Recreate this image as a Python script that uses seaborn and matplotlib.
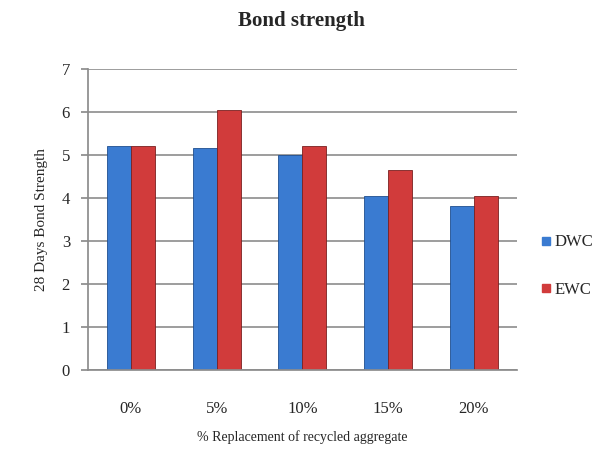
import matplotlib
matplotlib.use("Agg")
import matplotlib.pyplot as plt
import seaborn as sns
import pandas as pd

categories = ["0%", "5%", "10%", "15%", "20%"]
dwc = [5.2, 5.15, 5.0, 4.05, 3.8]
ewc = [5.2, 6.05, 5.2, 4.65, 4.05]
series = ["DWC", "EWC"]

df = pd.DataFrame({
    "cat": categories * 2,
    "val": dwc + ewc,
    "series": ["DWC"] * len(categories) + ["EWC"] * len(categories),
})

sns.set_theme(style="white")
plt.rcParams["font.family"] = ["Liberation Serif", "DejaVu Serif"]

fig = plt.figure(figsize=(6.03, 4.59), dpi=100)
ax = fig.add_axes([0.146, 0.194, 0.711, 0.656])

palette = {"DWC": "#3a7bd1", "EWC": "#d13b3b"}
sns.barplot(data=df, x="cat", y="val", hue="series", palette=palette,
            width=0.56, dodge=True, ax=ax, saturation=1, legend=False)
for p in ax.patches:
    p.set_edgecolor("#7a2020" if p.get_facecolor()[0] > 0.6 else "#1f4f8f")
    p.set_linewidth(0.6)

ax.set_ylim(0, 7)
ax.set_xlim(-0.5, 4.5)
ax.set_yticks(range(0, 8))
ax.yaxis.grid(True, color="#8c8c8c", linewidth=1.2)
ax.set_axisbelow(True)
for s in ["top", "right"]:
    ax.spines[s].set_visible(False)
ax.spines["left"].set_color("#8c8c8c")
ax.spines["bottom"].set_color("#8c8c8c")
ax.tick_params(axis="y", left=True, length=5, color="#8c8c8c", labelsize=12, pad=8)
ax.tick_params(axis="x", bottom=False, labelsize=12, pad=16)

ax.set_xlabel("% Replacement of recycled aggregate", fontsize=10, labelpad=10)
ax.set_ylabel("28 Days Bond Strength", fontsize=11, labelpad=10)
fig.text(0.5, 0.955, "Bond strength", ha="center", va="center",
         fontsize=15, fontweight="bold")

from matplotlib.lines import Line2D
handles = [Line2D([0], [0], marker="s", linestyle="", markersize=6,
                  markerfacecolor=palette[s], markeredgecolor=palette[s]) for s in series]
fig.legend(handles, series, loc="center left", bbox_to_anchor=(0.87, 0.42),
           frameon=False, fontsize=12, handletextpad=0.1, labelspacing=1.9,
           handlelength=0.8)

fig.savefig("out.png", dpi=100)
